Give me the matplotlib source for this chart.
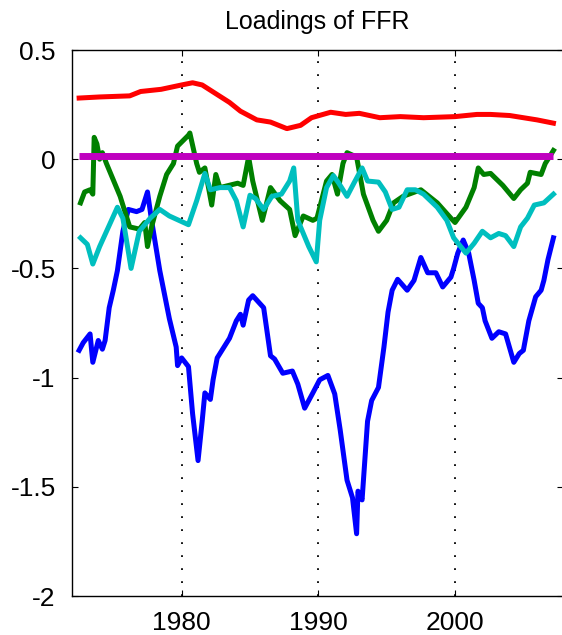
import matplotlib
matplotlib.use("Agg")
import matplotlib.pyplot as plt

# Time-varying loadings of the federal funds rate on five factors
blue_years = [1972.5, 1972.8, 1973.3, 1973.5, 1973.9, 1974.2, 1974.4, 1974.7, 1975.0, 1975.3,
              1975.7, 1976.1, 1976.7, 1977.1, 1977.5, 1977.8, 1978.4, 1979.1, 1979.6, 1979.7,
              1980.0, 1980.5, 1980.8, 1981.2, 1981.5, 1981.7, 1982.1, 1982.3, 1982.6, 1983.5,
              1984.0, 1984.3, 1984.5, 1984.9, 1985.2, 1986.0, 1986.5, 1986.8, 1987.4, 1988.1,
              1988.5, 1989.0, 1989.6, 1990.1, 1990.7, 1991.2, 1991.6, 1992.1, 1992.5, 1992.8,
              1992.9, 1993.2, 1993.6, 1993.9, 1994.4, 1994.8, 1995.1, 1995.4, 1995.8, 1996.5,
              1997.0, 1997.5, 1998.0, 1998.6, 1999.1, 1999.7, 1999.9, 2000.2, 2000.6, 2001.0,
              2001.4, 2001.7, 2002.0, 2002.2, 2002.7, 2003.2, 2003.7, 2004.3, 2004.7, 2005.0,
              2005.4, 2005.9, 2006.3, 2006.5, 2006.8, 2007.2]
blue_vals = [-0.875, -0.84, -0.80, -0.93, -0.83, -0.87, -0.83, -0.68, -0.60, -0.51,
             -0.33, -0.23, -0.24, -0.23, -0.15, -0.28, -0.51, -0.73, -0.86, -0.945,
             -0.91, -0.95, -1.165, -1.38, -1.20, -1.07, -1.10, -1.01, -0.91, -0.82,
             -0.74, -0.71, -0.76, -0.645, -0.625, -0.68, -0.90, -0.915, -0.98, -0.97,
             -1.03, -1.14, -1.07, -1.01, -0.99, -1.075, -1.24, -1.47, -1.55, -1.715,
             -1.52, -1.56, -1.20, -1.105, -1.045, -0.86, -0.70, -0.60, -0.55, -0.60,
             -0.555, -0.45, -0.52, -0.52, -0.585, -0.54, -0.50, -0.43, -0.37, -0.43,
             -0.555, -0.66, -0.68, -0.74, -0.82, -0.79, -0.80, -0.93, -0.89, -0.875,
             -0.74, -0.63, -0.60, -0.555, -0.46, -0.36]

green_years = [1972.6, 1972.9, 1973.3, 1973.5, 1973.6, 1973.8, 1974.0, 1974.2, 1974.5, 1975.5,
               1976.2, 1976.9, 1977.3, 1977.5, 1977.8, 1978.4, 1978.9, 1979.4, 1979.7, 1980.5,
               1980.6, 1981.1, 1981.3, 1981.7, 1982.2, 1982.5, 1982.8, 1984.1, 1984.5, 1984.9,
               1985.2, 1985.9, 1986.5, 1987.2, 1987.9, 1988.3, 1988.9, 1989.6, 1989.9, 1990.6,
               1991.0, 1991.4, 1991.8, 1992.1, 1992.8, 1993.3, 1994.0, 1994.4, 1995.0, 1995.5,
               1996.2, 1997.5, 1998.7, 1999.7, 2000.0, 2000.8, 2001.4, 2001.7, 2002.1, 2002.6,
               2003.5, 2004.3, 2004.8, 2005.3, 2005.5, 2006.3, 2006.6, 2007.2]
green_vals = [-0.20, -0.15, -0.14, -0.16, 0.10, 0.07, 0.0, 0.03, -0.02, -0.17,
              -0.31, -0.32, -0.29, -0.40, -0.31, -0.17, -0.07, -0.02, 0.06, 0.11,
              0.12, -0.02, -0.06, -0.04, -0.21, -0.07, -0.13, -0.11, -0.12, 0.01,
              -0.10, -0.28, -0.13, -0.19, -0.23, -0.35, -0.26, -0.28, -0.27, -0.10,
              -0.07, -0.16, -0.02, 0.03, 0.01, -0.16, -0.28, -0.33, -0.28, -0.20,
              -0.17, -0.14, -0.20, -0.27, -0.29, -0.22, -0.13, -0.04, -0.07, -0.065,
              -0.12, -0.18, -0.14, -0.11, -0.06, -0.07, -0.02, 0.04]

red_years = [1972.5, 1974.0, 1976.2, 1977.0, 1978.5, 1980.0, 1980.8, 1981.5, 1982.5, 1983.5,
             1984.3, 1985.5, 1986.5, 1987.7, 1988.7, 1989.5, 1990.9, 1992.0, 1993.0, 1994.5,
             1996.0, 1997.7, 2000.0, 2001.6, 2002.6, 2004.0, 2005.0, 2006.0, 2007.2]
red_vals = [0.28, 0.285, 0.29, 0.31, 0.32, 0.34, 0.35, 0.34, 0.30, 0.26,
            0.22, 0.18, 0.17, 0.14, 0.155, 0.19, 0.215, 0.205, 0.21, 0.19,
            0.195, 0.19, 0.195, 0.205, 0.205, 0.20, 0.19, 0.18, 0.165]

cyan_years = [1972.6, 1973.1, 1973.5, 1974.0, 1975.3, 1975.7, 1976.3, 1976.9, 1977.7, 1978.4,
              1979.1, 1980.5, 1981.1, 1981.7, 1982.1, 1982.8, 1983.5, 1984.0, 1984.5, 1985.0,
              1985.4, 1986.0, 1986.6, 1987.3, 1987.9, 1988.2, 1988.5, 1989.3, 1989.85, 1990.1,
              1990.6, 1991.1, 1991.5, 1992.1, 1992.6, 1993.2, 1993.6, 1994.4, 1994.9, 1995.4,
              1995.9, 1996.5, 1997.1, 1997.7, 1998.7, 1999.4, 1999.9, 2000.8, 2001.4, 2002.0,
              2002.6, 2003.2, 2003.7, 2004.3, 2004.8, 2005.3, 2005.8, 2006.5, 2007.2]
cyan_vals = [-0.36, -0.39, -0.48, -0.40, -0.22, -0.27, -0.50, -0.33, -0.27, -0.23,
             -0.26, -0.30, -0.19, -0.065, -0.14, -0.13, -0.13, -0.19, -0.31, -0.165,
             -0.18, -0.23, -0.17, -0.16, -0.10, -0.04, -0.28, -0.40, -0.47, -0.28,
             -0.13, -0.075, -0.11, -0.17, -0.11, -0.04, -0.10, -0.105, -0.15, -0.23,
             -0.22, -0.14, -0.14, -0.16, -0.22, -0.28, -0.36, -0.43, -0.385, -0.33,
             -0.36, -0.34, -0.35, -0.40, -0.31, -0.27, -0.21, -0.20, -0.16]

magenta_years = [1972.5, 2007.2]
magenta_vals = [0.015, 0.015]

x_ticks = [1980, 1990, 2000]
y_ticks = [-2, -1.5, -1, -0.5, 0, 0.5]
y_ticklabels = ["-2", "-1.5", "-1", "-0.5", "0", "0.5"]

plt.rcParams["font.family"] = ["Liberation Sans", "DejaVu Sans"]
plt.rcParams["axes.unicode_minus"] = False

W, H = 562, 635
fig = plt.figure(figsize=(W / 100, H / 100), dpi=100)
left, right, top, bottom = 72.3, 563.0, 50.0, 596.0
ax = fig.add_axes([left / W, 1 - bottom / H, (right - left) / W, (bottom - top) / H])

lw = 3.6
ax.plot(blue_years, blue_vals, color=(0, 0, 1), lw=lw, solid_joinstyle="round")
ax.plot(green_years, green_vals, color=(0, 0.5, 0), lw=lw, solid_joinstyle="round")
ax.plot(red_years, red_vals, color=(1, 0, 0), lw=lw, solid_joinstyle="round")
ax.plot(cyan_years, cyan_vals, color=(0, 0.75, 0.75), lw=lw, solid_joinstyle="round")
ax.plot(magenta_years, magenta_vals, color=(0.75, 0, 0.75), lw=5.0, solid_capstyle="butt")

ax.set_xlim(1972.0, 2007.9)
ax.set_ylim(-2, 0.5)
ax.set_xticks(x_ticks)
ax.set_xticklabels([str(t) for t in x_ticks])
ax.set_yticks(y_ticks)
ax.set_yticklabels(y_ticklabels)

for xv in x_ticks:
    ax.axvline(xv, color="black", lw=1.3, ls=(0, (1, 6.2)), zorder=0.5)

ax.tick_params(direction="in", length=4.3, width=0.8, labelsize=19,
               top=True, right=True, colors="black")
ax.tick_params(axis="y", pad=12)
ax.tick_params(axis="x", pad=11)
for s in ax.spines.values():
    s.set_linewidth(1.0)

fig.text(317 / W, 1 - 29 / H, "Loadings of FFR", ha="center", va="baseline", fontsize=18)

fig.savefig("out.png", dpi=100)
